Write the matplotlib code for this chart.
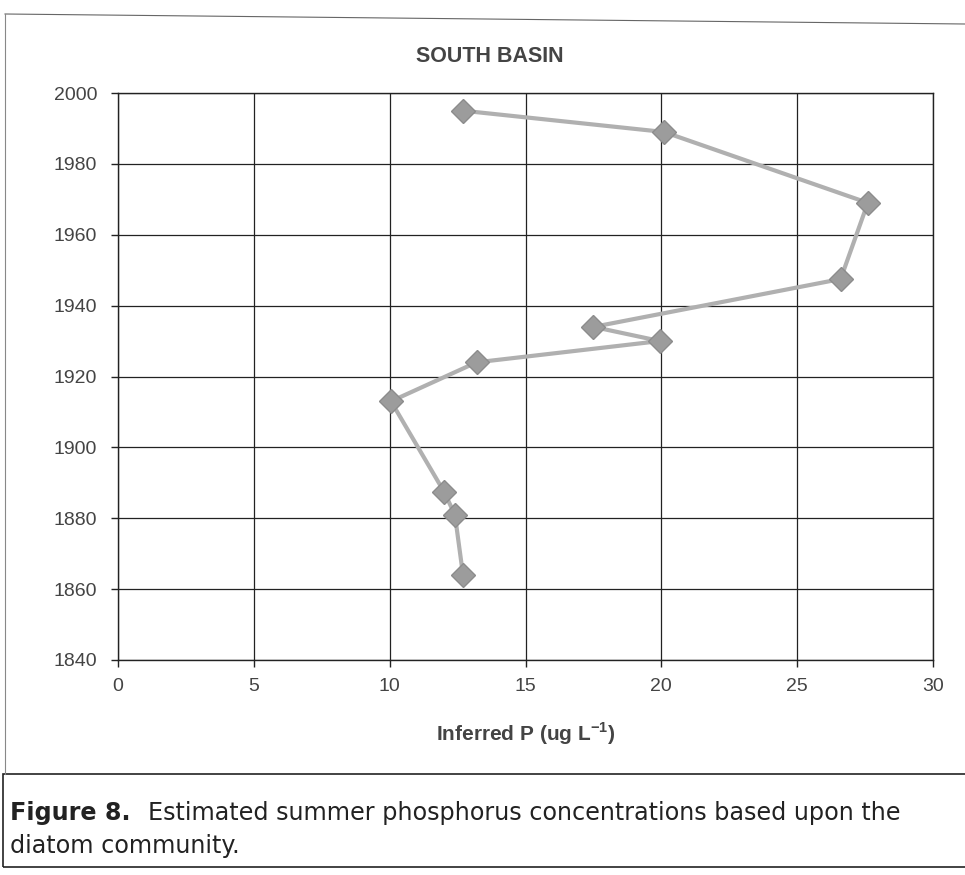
import matplotlib as mpl
mpl.use('Agg')
import matplotlib.pyplot as plt
from matplotlib.lines import Line2D
from matplotlib.patches import Rectangle

# inferred summer P (ug/L) vs. year
phosphorus = [12.7, 20.1, 27.6, 26.6, 17.5, 19.95, 13.2, 10.05, 12.0, 12.4, 12.7]
years = [1995, 1989, 1969, 1947.5, 1934, 1930, 1924, 1913, 1887.5, 1881, 1864]

x_ticks = [0, 5, 10, 15, 20, 25, 30]
y_ticks = [1840, 1860, 1880, 1900, 1920, 1940, 1960, 1980, 2000]

title = "SOUTH BASIN"
x_label = "Inferred P (ug L$^{\\mathregular{-1}}$)"
caption_bold = "Figure 8."
caption_rest = "Estimated summer phosphorus concentrations based upon the"
caption_line2 = "diatom community."

font_tick = {'family': 'Liberation Sans', 'size': 14}
font_bold = {'family': 'Liberation Sans', 'size': 15, 'weight': 'bold'}
font_cap = {'family': 'DejaVu Sans', 'size': 17.2}

fig = plt.figure(figsize=(9.65, 8.75), dpi=100)
ax = fig.add_axes([118 / 965, 1 - 660 / 875, 815 / 965, 567 / 875])

ax.plot(phosphorus, years, color='#b0b0b0', linewidth=3, marker='D',
        markersize=12, markerfacecolor='#9c9c9c', markeredgecolor='#8c8c8c',
        zorder=3)

ax.set_xlim(0, 30)
ax.set_ylim(1840, 2000)
ax.set_xticks(x_ticks)
ax.set_yticks(y_ticks)
ax.set_xticklabels([str(v) for v in x_ticks], fontdict=font_tick, color='#444444')
ax.set_yticklabels([str(v) for v in y_ticks], fontdict=font_tick, color='#444444')
ax.tick_params(axis='both', direction='out', length=5, width=1, color='#222222')
ax.tick_params(axis='x', pad=8)
ax.tick_params(axis='y', pad=10)
ax.grid(True, color='#222222', linewidth=0.9)
ax.set_axisbelow(True)
for s in ax.spines.values():
    s.set_color('#222222')
    s.set_linewidth(1)

ax.set_xlabel(x_label, fontdict=font_bold, color='#444444', labelpad=18)
fig.text(490 / 965, 1 - 57 / 875, title, ha='center', va='center',
         fontdict={'family': 'Liberation Sans', 'size': 15.5, 'weight': 'bold'},
         color='#444444')

# page border and caption box
fig.add_artist(Line2D([5 / 965, 1], [1 - 14 / 875, 1 - 24 / 875], color='#666666', linewidth=0.8))
fig.add_artist(Line2D([5 / 965, 5 / 965], [1 - 14 / 875, 1 - 774 / 875], color='#888888', linewidth=0.8))
fig.add_artist(Rectangle((3 / 965, 1 - 867 / 875), 1, 93 / 875, transform=fig.transFigure,
                         fill=False, edgecolor='#222222', linewidth=1.2))

fig.text(10 / 965, 1 - 813 / 875, caption_bold, ha='left', va='center',
         fontdict=dict(font_cap, weight='bold'), color='#222222')
fig.text(148 / 965, 1 - 813 / 875, caption_rest, ha='left', va='center',
         fontdict=font_cap, color='#222222')
fig.text(10 / 965, 1 - 846 / 875, caption_line2, ha='left', va='center',
         fontdict=font_cap, color='#222222')

plt.savefig('out.png', dpi=100)
